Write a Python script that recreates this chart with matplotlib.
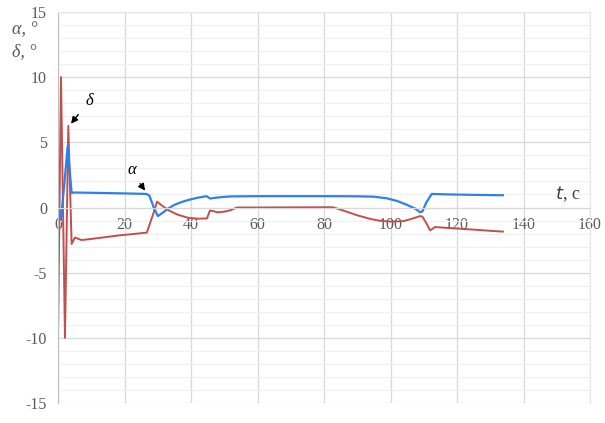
import matplotlib
matplotlib.use("Agg")
import matplotlib.pyplot as plt
from matplotlib.ticker import MultipleLocator

# delta (red)
t_delta = [0.0, 0.9, 2.1, 3.1, 4.1, 5.1, 7.1, 12, 18, 26.7, 28.5, 29.8, 31.5, 33.5, 36, 39, 42, 44.8,
           45.7, 47, 48, 50, 52, 53.8, 60, 70, 82.7, 86, 90, 94, 96.8, 100, 103.8, 106, 108.9, 109.6,
           111.0, 111.9, 113.4, 118, 124, 129, 133.8]
delta = [-10.0, 10.0, -10.0, 6.26, -2.8, -2.3, -2.5, -2.35, -2.15, -1.93, -0.6, 0.45, 0.1, -0.25, -0.55, -0.78, -0.86, -0.84,
         -0.23, -0.3, -0.37, -0.32, -0.2, 0.0, 0.0, 0.01, 0.02, -0.25, -0.6, -0.88, -1.02, -1.08, -1.05, -0.9, -0.66, -0.7,
         -1.3, -1.76, -1.5, -1.58, -1.68, -1.77, -1.85]

# alpha (blue)
t_alpha = [0.0, 0.5, 0.9, 1.9, 2.9, 4.1, 5.0, 12, 20, 26.7, 27.5, 28.8, 30.0, 31.5, 33, 35, 37.5, 39.7, 42, 44.7,
           45.7, 47.5, 49.7, 52, 60, 70, 80, 90, 95, 99, 102, 105, 107.5, 108.9, 109.6, 110.8, 112.4, 118, 125, 133.8]
alpha = [0.86, -0.6, -0.9, 1.8, 4.68, 1.12, 1.15, 1.12, 1.08, 1.04, 0.9, 0.0, -0.66, -0.4, -0.1, 0.2, 0.45, 0.61, 0.75, 0.87,
         0.69, 0.75, 0.81, 0.85, 0.87, 0.87, 0.87, 0.86, 0.83, 0.7, 0.5, 0.2, -0.1, -0.36, -0.3, 0.4, 1.04, 1.0, 0.97, 0.94]

x_ticks = [0, 20, 40, 60, 80, 100, 120, 140, 160]
y_ticks = [-15, -10, -5, 0, 5, 10, 15]

plt.rcParams['font.family'] = ['Liberation Serif', 'DejaVu Serif']

fig = plt.figure(figsize=(6.05, 4.23), dpi=100)
ax = fig.add_axes([58/605, 1-403/423, (590-58)/605, (403-12)/423])

ax.set_xlim(0, 160)
ax.set_ylim(-15, 15)
ax.xaxis.set_major_locator(MultipleLocator(20))
ax.yaxis.set_major_locator(MultipleLocator(5))
ax.yaxis.set_minor_locator(MultipleLocator(1))
ax.grid(True, which='major', color='#d9d9d9', linewidth=0.9)
ax.grid(True, which='minor', axis='y', color='#f0f0f0', linewidth=0.8)
ax.set_axisbelow(True)

for s in ['top', 'right']:
    ax.spines[s].set_color('#e6e6e6')
ax.spines['bottom'].set_color('#d9d9d9')
ax.spines['bottom'].set_position(('data', 0))
ax.spines['left'].set_color('#bfbfbf')

ax.set_xticks(x_ticks)
ax.set_yticks(y_ticks)
ax.set_xticklabels([str(v) for v in x_ticks])
ax.set_yticklabels([str(v) for v in y_ticks])
ax.tick_params(axis='both', which='both', length=0, labelsize=11.5, colors='#595959')
ax.tick_params(axis='x', pad=7)
ax.tick_params(axis='y', pad=8)

ax.plot(t_delta, delta, color='#c0504d', linewidth=1.4)
ax.plot(t_alpha, alpha, color='#2f80ed', linewidth=1.6)

# annotations
ax.annotate('', xy=(3.4, 6.26), xytext=(6.6, 7.3),
            arrowprops=dict(arrowstyle='-|>', color='black', lw=1.0, mutation_scale=10))
ax.text(9.3, 8.2, 'δ', fontsize=12, style='italic', ha='center', va='center')
ax.annotate('', xy=(26.7, 1.12), xytext=(24.2, 2.0),
            arrowprops=dict(arrowstyle='-|>', color='black', lw=1.0, mutation_scale=10))
ax.text(22.2, 2.85, 'α', fontsize=12, style='italic', ha='center', va='center')

ax.text(149.5, 1.0, '$t$, c', fontsize=13, ha='left', va='center', color='#404040')
fig.text(12/605, 1-30/423, 'α, °', fontsize=13, style='italic', color='#595959', ha='left', va='center')
fig.text(12/605, 1-52/423, 'δ, °', fontsize=13, style='italic', color='#595959', ha='left', va='center')

fig.savefig('out.png', dpi=100)
